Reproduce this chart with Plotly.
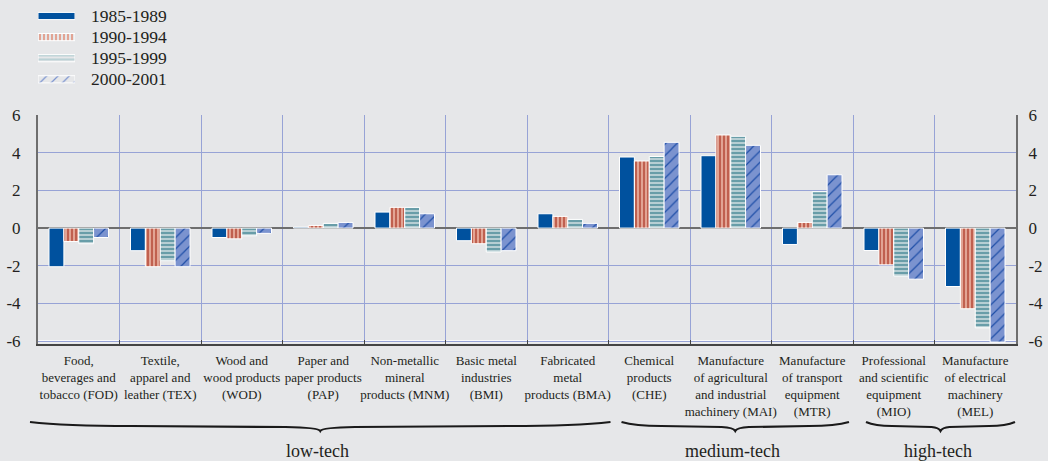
import plotly.graph_objects as go

# ---------------- data ----------------
CODES = ["FOD", "TEX", "WOD", "PAP", "MNM", "BMI", "BMA", "CHE", "MAI", "MTR", "MIO", "MEL"]
CATEGORY_LABELS = [
    "Food,<br>beverages and<br>tobacco (FOD)",
    "Textile,<br>apparel and<br>leather (TEX)",
    "Wood and<br>wood products<br>(WOD)",
    "Paper and<br>paper products<br>(PAP)",
    "Non-metallic<br>mineral<br>products (MNM)",
    "Basic metal<br>industries<br>(BMI)",
    "Fabricated<br>metal<br>products (BMA)",
    "Chemical<br>products<br>(CHE)",
    "Manufacture<br>of agricultural<br>and industrial<br>machinery (MAI)",
    "Manufacture<br>of transport<br>equipment<br>(MTR)",
    "Professional<br>and scientific<br>equipment<br>(MIO)",
    "Manufacture<br>of electrical<br>machinery<br>(MEL)",
]
SERIES = ["1985-1989", "1990-1994", "1995-1999", "2000-2001"]
V_1985_1989 = [-2.05, -1.20, -0.50, 0.05, 0.85, -0.67, 0.76, 3.77, 3.84, -0.87, -1.19, -3.10]
V_1990_1994 = [-0.71, -2.05, -0.57, 0.14, 1.10, -0.83, 0.62, 3.56, 4.94, 0.30, -1.95, -4.28]
V_1995_1999 = [-0.83, -1.73, -0.41, 0.25, 1.10, -1.27, 0.46, 3.80, 4.87, 1.93, -2.55, -5.29]
V_2000_2001 = [-0.50, -2.05, -0.28, 0.30, 0.76, -1.20, 0.25, 4.55, 4.39, 2.83, -2.71, -6.05]
VALUES = [V_1985_1989, V_1990_1994, V_1995_1999, V_2000_2001]
Y_TICKS = [-6, -4, -2, 0, 2, 4, 6]
Y_TICK_LABELS = ["-6", "-4", "-2", "0", "2", "4", "6"]
GROUP_NAMES = ["low-tech", "medium-tech", "high-tech"]
GROUP_FIRST = [0, 7, 10]
GROUP_LAST = [6, 9, 11]

# ---------------- styles ----------------
FONT = "Liberation Serif, Times New Roman, Times, serif"
TXT = "#231f20"
BG = "#e6e7e9"
GRID = "#97a3d6"
STYLES = [
    dict(color="#00519e", shape="", fg="#00519e", bg="#00519e", size=8, sol=0.3),
    dict(color="#e2a494", shape="|", fg="#c0604f", bg="#e2a494", size=4, sol=0.5),
    dict(color="#b6ced3", shape="-", fg="#5f98a3", bg="#b6ced3", size=4, sol=0.45),
    dict(color="#7b93cf", shape="/", fg="#1f4fa8", bg="#7b93cf", size=8, sol=0.15),
]

W, H = 1048, 461
X0, X1 = 38, 1016          # plot area left/right px
YT, YB = 115, 344          # plot area top/bottom px
YMIN, YMAX = -6.15, 6

def fx(px):
    return px / W

def fy(py):
    return (H - py) / H

fig = go.Figure()

for name, vals, st in zip(SERIES, VALUES, STYLES):
    fig.add_trace(go.Bar(
        x=CATEGORY_LABELS, y=vals, name=name, showlegend=False,
        marker=dict(color=st["color"],
                    pattern=dict(shape=st["shape"], fgcolor=st["fg"], bgcolor=st["bg"],
                                 size=st["size"], solidity=st["sol"], fillmode="replace"),
                    line=dict(color="white", width=1)),
        xaxis="x", yaxis="y",
    ))

# invisible companion trace so the right-hand axis is drawn
fig.add_trace(go.Scatter(
    x=CATEGORY_LABELS, y=V_1985_1989, mode="markers", marker=dict(opacity=0),
    showlegend=False, hoverinfo="skip", xaxis="x", yaxis="y2"))

# legend swatches (drawn as a small horizontal bar chart)
fig.add_trace(go.Bar(
    y=SERIES, x=[1] * len(SERIES), orientation="h", width=0.34,
    showlegend=False, hoverinfo="skip",
    marker=dict(color=[s["color"] for s in STYLES],
                pattern=dict(shape=[s["shape"] for s in STYLES],
                             fgcolor=[s["fg"] for s in STYLES],
                             bgcolor=[s["bg"] for s in STYLES],
                             size=[s["size"] for s in STYLES],
                             solidity=[s["sol"] for s in STYLES],
                             fillmode="replace"),
                line=dict(color="white", width=1)),
    xaxis="x3", yaxis="y3",
))

annotations = []
# legend labels
LEG_TOP, LEG_STEP = 16, 21.1
for i, name in enumerate(SERIES):
    annotations.append(dict(
        x=fx(89), y=fy(LEG_TOP + i * LEG_STEP), xref="paper", yref="paper",
        text=name, showarrow=False, xanchor="left", yanchor="middle",
        font=dict(family=FONT, size=17.5, color=TXT)))

shapes = []
# white line at the -6 level
shapes.append(dict(type="line", xref="paper", yref="y", x0=fx(X0), x1=fx(X1), y0=-6, y1=-6,
                   line=dict(color="white", width=2), layer="between"))

# group braces
n = len(CODES)
cat_w = (X1 - X0) / n
B_TOP, B_MID, B_BOT = 422, 426, 431
for gi, (g, a, b) in enumerate(zip(GROUP_NAMES, GROUP_FIRST, GROUP_LAST)):
    left = X0 + a * cat_w + (-8 if gi == 0 else 13)
    right = X0 + (b + 1) * cat_w + (2 if gi == 0 else (-4 if gi == 1 else -1))
    mid = (left + right) / 2
    lh = mid - left
    rh = right - mid
    path = (
        f"M {fx(left)},{fy(B_TOP)} "
        f"Q {fx(left + lh * 0.12)},{fy(B_MID)} {fx(left + lh * 0.35)},{fy(B_MID)} "
        f"L {fx(mid - lh * 0.12)},{fy(B_MID + 1)} "
        f"Q {fx(mid - 2)},{fy(B_MID + 1.5)} {fx(mid)},{fy(B_BOT)} "
        f"Q {fx(mid + 2)},{fy(B_MID + 1.5)} {fx(mid + rh * 0.12)},{fy(B_MID + 1)} "
        f"L {fx(right - rh * 0.35)},{fy(B_MID)} "
        f"Q {fx(right - rh * 0.12)},{fy(B_MID)} {fx(right)},{fy(B_TOP)}"
    )
    shapes.append(dict(type="path", xref="paper", yref="paper", path=path,
                       line=dict(color="#1a1a1a", width=2.2)))
    annotations.append(dict(
        x=fx(mid - 3), y=fy(451), xref="paper", yref="paper", text=g, showarrow=False,
        xanchor="center", yanchor="middle", font=dict(family=FONT, size=18, color=TXT)))

fig.update_layout(
    width=W, height=H,
    margin=dict(l=0, r=0, t=0, b=0, autoexpand=False),
    paper_bgcolor=BG, plot_bgcolor=BG,
    barmode="group", bargap=0.27, bargroupgap=0,
    font=dict(family=FONT, color=TXT),
    showlegend=False,
    xaxis=dict(domain=[fx(X0), fx(X1)], anchor="y", type="category", tickson="boundaries",
               range=[-0.5, len(CATEGORY_LABELS) - 0.5],
               tickangle=0, automargin=False,
               showgrid=True, gridcolor=GRID, gridwidth=1,
               showline=True, linecolor="#444", linewidth=1.5,
               ticks="inside", ticklen=4, tickcolor="#444",
               tickfont=dict(family=FONT, size=13, color=TXT), ticklabelstandoff=4,
               fixedrange=True),
    yaxis=dict(domain=[fy(YB), fy(YT)], anchor="x", range=[YMIN, YMAX],
               tickmode="array", tickvals=Y_TICKS, ticktext=Y_TICK_LABELS,
               automargin=False,
               showgrid=True, gridcolor=GRID, gridwidth=1,
               zeroline=True, zerolinecolor="#6e6e6e", zerolinewidth=2,
               showline=True, linecolor="#6e6e6e", linewidth=2, ticks="",
               tickfont=dict(family=FONT, size=17, color=TXT), ticklabelstandoff=12),
    yaxis2=dict(overlaying="y", side="right", anchor="x", range=[YMIN, YMAX],
                tickmode="array", tickvals=Y_TICKS, ticktext=Y_TICK_LABELS,
                automargin=False,
                showgrid=False, zeroline=False,
                showline=True, linecolor="#6e6e6e", linewidth=2, ticks="",
                tickfont=dict(family=FONT, size=17, color=TXT), ticklabelstandoff=7),
    xaxis3=dict(domain=[fx(38), fx(75)], anchor="y3", range=[0, 1], visible=False, fixedrange=True),
    yaxis3=dict(domain=[fy(LEG_TOP + 3.5 * LEG_STEP), fy(LEG_TOP - 0.5 * LEG_STEP)], anchor="x3",
                type="category", range=[len(SERIES) - 0.5, -0.5], visible=False, fixedrange=True),
    annotations=annotations,
    shapes=shapes,
)

fig.write_html(
    "out.html",
    config={"displayModeBar": False},
    post_script="document.body.style.margin='0';document.body.style.overflow='hidden';",
)
